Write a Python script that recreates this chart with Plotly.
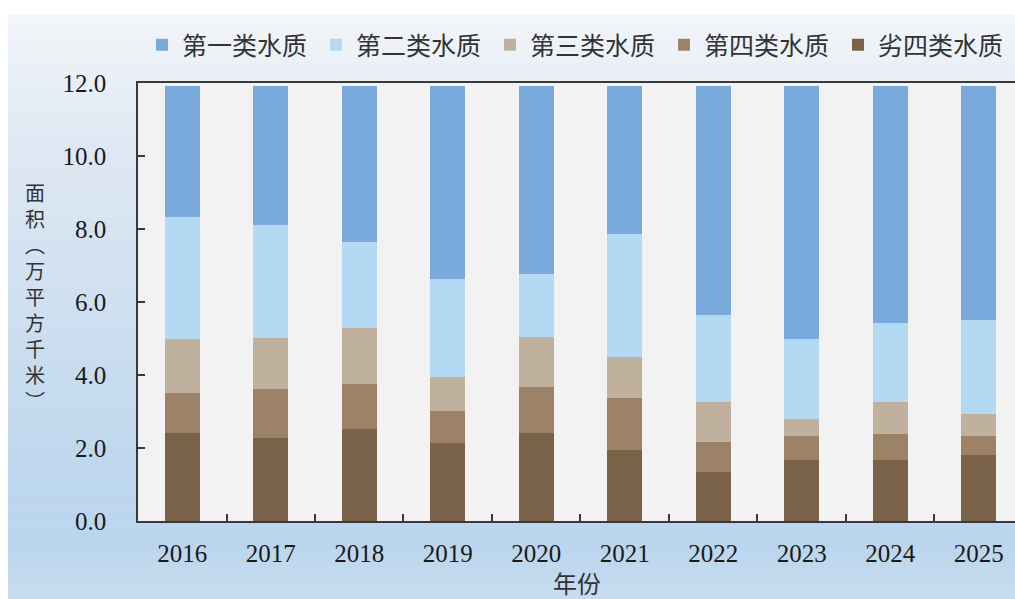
import plotly.graph_objects as go

# Water-quality area by class, 10,000 km² per year (stacked bottom → top)
years = ["2016", "2017", "2018", "2019", "2020", "2021", "2022", "2023", "2024", "2025"]
class_worse_iv = [2.42, 2.27, 2.52, 2.14, 2.42, 1.95, 1.33, 1.68, 1.68, 1.82]
class_iv = [1.10, 1.34, 1.23, 0.87, 1.26, 1.41, 0.83, 0.66, 0.70, 0.52]
class_iii = [1.46, 1.40, 1.55, 0.94, 1.36, 1.12, 1.09, 0.45, 0.87, 0.59]
class_ii = [3.34, 3.10, 2.35, 2.68, 1.74, 3.38, 2.39, 2.20, 2.18, 2.58]
class_i = [3.61, 3.82, 4.28, 5.30, 5.15, 4.07, 6.29, 6.94, 6.50, 6.42]

y_ticks = [0, 2, 4, 6, 8, 10, 12]

W, H = 1015, 599
ML, MR, MT, MB = 138, 0, 83, 78
PW, PH = W - ML - MR, H - MT - MB


def px_to_paper_x(px):
    return (px - ML) / PW


def px_to_paper_y(py):
    return (H - MB - py) / PH


series = [
    ("劣四类水质", class_worse_iv, "#7A6248"),
    ("第四类水质", class_iv, "#9C8367"),
    ("第三类水质", class_iii, "#C0B09E"),
    ("第二类水质", class_ii, "#B3DAF2"),
    ("第一类水质", class_i, "#7AAADB"),
]

fig = go.Figure()
for name, vals, color in series:
    fig.add_trace(go.Bar(
        x=years, y=vals, name=name, width=0.395,
        marker=dict(color=color, line=dict(width=0)),
    ))

# Vertical gradient panel behind the chart
stops = [(15, (243, 245, 249)), (150, (222, 232, 243)), (300, (207, 224, 240)),
         (450, (192, 216, 238)), (540, (186, 213, 238)), (599, (200, 220, 239))]


def grad_color(py):
    for (y0, c0), (y1, c1) in zip(stops, stops[1:]):
        if y0 <= py <= y1:
            t = (py - y0) / (y1 - y0)
            return "rgb(%d,%d,%d)" % tuple(round(a + (b - a) * t) for a, b in zip(c0, c1))
    return "rgb(%d,%d,%d)" % stops[-1][1]


shapes = []
n_bands = 90
top, bot = 15, 599
step = (bot - top) / n_bands
for i in range(n_bands):
    y0 = top + i * step
    y1 = y0 + step + 0.6
    shapes.append(dict(
        type="rect", xref="paper", yref="paper", layer="below",
        x0=px_to_paper_x(8), x1=px_to_paper_x(W + 2),
        y0=px_to_paper_y(min(y1, bot + 2)), y1=px_to_paper_y(y0),
        fillcolor=grad_color(y0 + step / 2), line=dict(width=0),
    ))
# Plot-area background
shapes.append(dict(
    type="rect", xref="paper", yref="paper", layer="below",
    x0=0, x1=1, y0=0, y1=1, fillcolor="#F2F2F2", line=dict(width=0),
))

annotations = []
# Vertical (stacked-character) y-axis title
ytitle_chars = ["面", "积", "︵", "万", "平", "方", "千", "米", "︶"]
annotations.append(dict(
    text="<br>".join(ytitle_chars), xref="paper", yref="paper", showarrow=False,
    x=px_to_paper_x(35), y=px_to_paper_y(296), xanchor="center", yanchor="middle",
    font=dict(size=20, color="#333333", family="Noto Sans CJK SC"),
))
# x-axis title
annotations.append(dict(
    text="年份", xref="paper", yref="paper", showarrow=False,
    x=0.5, y=px_to_paper_y(582), xanchor="center", yanchor="middle",
    font=dict(size=24, color="#333333", family="Noto Sans CJK SC"),
))

fig.update_layout(
    width=W, height=H,
    margin=dict(l=ML, r=MR, t=MT, b=MB, pad=0, autoexpand=False),
    paper_bgcolor="white",
    plot_bgcolor="rgba(0,0,0,0)",
    barmode="stack",
    shapes=shapes,
    annotations=annotations,
    legend=dict(
        orientation="h", traceorder="reversed",
        x=px_to_paper_x(142), xanchor="left",
        y=px_to_paper_y(45), yanchor="middle",
        entrywidth=129, entrywidthmode="pixels",
        bgcolor="rgba(0,0,0,0)",
        font=dict(size=25, color="#333333", family="Noto Sans CJK SC"),
    ),
    xaxis=dict(
        type="category", range=[-0.5, 9.41],
        showgrid=False, zeroline=False,
        showline=True, linecolor="#3A3A3A", linewidth=1.5, mirror=True,
        ticks="inside", ticklen=7, tickcolor="#3A3A3A", tickwidth=1.5,
        tickson="boundaries", ticklabelstandoff=9,
        tickfont=dict(size=25, color="#1A1A1A", family="Liberation Serif"),
    ),
    yaxis=dict(
        range=[0, 12], tickvals=y_ticks, tickformat=".1f",
        showgrid=False, zeroline=False,
        showline=True, linecolor="#3A3A3A", linewidth=1.5,
        ticks="inside", ticklen=7, tickcolor="#3A3A3A", tickwidth=1.5,
        ticklabelstandoff=25,
        tickfont=dict(size=25, color="#1A1A1A", family="Liberation Serif"),
    ),
    showlegend=True,
)

fig.write_html("out.html")
